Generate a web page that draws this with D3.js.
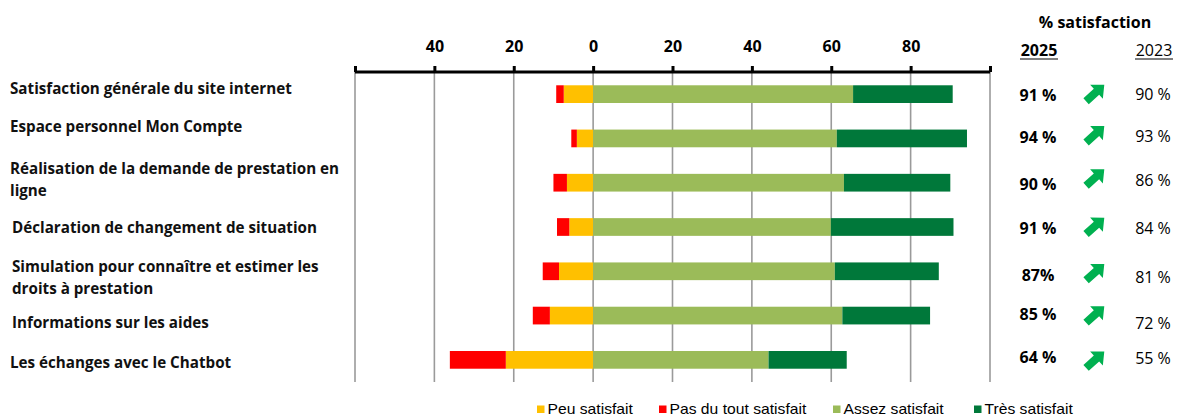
<!DOCTYPE html>
<html>
<head>
<meta charset="utf-8">
<script src="https://cdn.jsdelivr.net/npm/d3@7"></script>
<style>
body{margin:0;background:#fff;}
text{font-family:'Open Sans',Lato,sans-serif;}
</style>
</head>
<body>
<svg class="graph"></svg>
<script>
let width=1181, height=417;
let svg=d3.select('.graph').attr('width',width).attr('height',height)

// data
let categories=['Satisfaction générale du site internet','Espace personnel Mon Compte',
  'Réalisation de la demande de prestation en|ligne','Déclaration de changement de situation',
  'Simulation pour connaître et estimer les|droits à prestation','Informations sur les aides',
  'Les échanges avec le Chatbot']
let peuSat=[7.4,4.1,6.6,6.0,8.6,10.9,22.0]
let pasSat=[1.9,1.4,3.4,3.1,4.1,4.3,14.1]
let assezSat=[65.5,61.4,63.2,59.9,60.9,62.8,44.2]
let tresSat=[25.1,32.8,26.8,30.9,26.2,22.1,19.7]
let sat2025=['91 %','94 %','90 %','91 %','87%','85 %','64 %']
let sat2023=['90 %','93 %','86 %','84 %','81 %','72 %','55 %']
let tickVals=[-60,-40,-20,0,20,40,60,80,100]
let seriesNames=['Peu satisfait','Pas du tout satisfait','Assez satisfait','Très satisfait']
let colors=['#FFC000','#FF0000','#9BBB59','#00783A']

// layout nudges (text boxes were placed by hand in the original)
let labelDy=[-5,-12,-3,1,6,7,3]
let labelDx=[10,10,10,12,12,12,10]
let val25Dy=[1,-1,2,1,4,-1,-2]
let val23Dy=[0,-2,-2,1,6,8,-1]
let arrowDy=[-1,-4,-5,-1,1,-1,0]

let x=d3.scaleLinear().domain([-60,100]).range([355,990])
let y=d3.scaleBand().domain(categories).range([72,382]).paddingInner(0.6).paddingOuter(0.3)

// gridlines
svg.append('g').selectAll('line').data(tickVals).join('line')
   .attr('x1',d=>x(d)).attr('x2',d=>x(d))
   .attr('y1',72).attr('y2',382)
   .attr('stroke','#9a9a9a').attr('stroke-width',1.6)

// stacked bars: left side (peu then pas du tout), right side (assez then tres)
let rows=categories.map((c,i)=>({cat:c,i:i}))
let segs=[]
rows.forEach(r=>{
  let i=r.i
  segs.push({cat:r.cat,x0:-peuSat[i],x1:0,s:0})
  segs.push({cat:r.cat,x0:-peuSat[i]-pasSat[i],x1:-peuSat[i],s:1})
  segs.push({cat:r.cat,x0:0,x1:assezSat[i],s:2})
  segs.push({cat:r.cat,x0:assezSat[i],x1:assezSat[i]+tresSat[i],s:3})
})
svg.append('g').selectAll('rect').data(segs).join('rect')
   .attr('x',d=>x(d.x0)).attr('width',d=>x(d.x1)-x(d.x0))
   .attr('y',d=>y(d.cat)).attr('height',y.bandwidth())
   .attr('fill',d=>colors[d.s])

// axis on top
let axis=svg.append('g').attr('transform','translate(0,72)')
   .call(d3.axisTop(x).tickValues(tickVals).tickSize(6).tickPadding(14)
     .tickFormat(d=>(d==-60||d==100)?'':Math.abs(d)))
axis.select('.domain').attr('stroke','#000').attr('stroke-width',3)
   .attr('d',`M${x(-60)},0H${x(100)}`)
axis.selectAll('.tick line').attr('stroke','#000').attr('stroke-width',3)
axis.selectAll('.tick text').style('font-size','16px').style('font-weight','bold')
   .style('font-family',"'Open Sans',sans-serif").attr('fill','#000')

// category labels
let lbl=svg.append('g').selectAll('text').data(rows).join('text')
   .attr('x',d=>labelDx[d.i])
   .attr('y',d=>y(d.cat)+y.bandwidth()/2+labelDy[d.i])
   .style('font-size','15.2px').style('font-weight','bold').attr('fill','#111')
lbl.each(function(d){
  let parts=d.cat.split('|')
  let t=d3.select(this)
  parts.forEach((p,k)=>{
    t.append('tspan').attr('x',labelDx[d.i])
     .attr('dy',k==0?(parts.length>1?'-0.37em':'0.35em'):'1.45em').text(p)
  })
})

// right side header
svg.append('text').attr('x',1095).attr('y',28).attr('text-anchor','middle')
   .style('font-size','16px').style('font-weight','bold').text('%  satisfaction')
svg.append('text').attr('x',1039).attr('y',56).attr('text-anchor','middle')
   .style('font-size','16px').style('font-weight','bold').text('2025')
svg.append('line').attr('x1',1020).attr('x2',1058).attr('y1',59).attr('y2',59)
   .attr('stroke','#000').attr('stroke-width',1.2)
svg.append('text').attr('x',1154).attr('y',56).attr('text-anchor','middle')
   .style('font-size','16px').text('2023')
svg.append('line').attr('x1',1135).attr('x2',1173).attr('y1',59).attr('y2',59)
   .attr('stroke','#000').attr('stroke-width',1.2)

svg.append('g').selectAll('text').data(rows).join('text')
   .attr('x',1038).attr('y',d=>y(d.cat)+y.bandwidth()/2+val25Dy[d.i]).attr('dy','0.35em')
   .attr('text-anchor','middle')
   .style('font-size','16px').style('font-weight','bold').text(d=>sat2025[d.i])
svg.append('g').selectAll('text').data(rows).join('text')
   .attr('x',1153).attr('y',d=>y(d.cat)+y.bandwidth()/2+val23Dy[d.i]).attr('dy','0.35em')
   .attr('text-anchor','middle')
   .style('font-size','16px').text(d=>sat2023[d.i])

// green arrows (block arrow pointing up-right)
let arrowPath='M-12,-4 L2,-4 L2,-9.5 L12.5,0 L2,9.5 L2,4 L-12,4 Z'
svg.append('g').selectAll('path').data(rows).join('path')
   .attr('d',arrowPath)
   .attr('transform',d=>`translate(${1095},${y(d.cat)+y.bandwidth()/2+arrowDy[d.i]}) rotate(-42)`)
   .attr('fill','#00B050')

// legend
let lg=svg.append('g')
let lgx=[537,659,833,974]
seriesNames.forEach((n,i)=>{
  lg.append('rect').attr('x',lgx[i]).attr('y',405.5).attr('width',7.5).attr('height',7.5).attr('fill',colors[i])
  lg.append('text').attr('transform',`translate(${lgx[i]+10.5},413.5) scale(1.12,1)`).text(n)
    .style('font-family','Liberation Sans,Arial,sans-serif').style('font-size','14px').attr('fill','#000')
})
</script>
</body>
</html>
